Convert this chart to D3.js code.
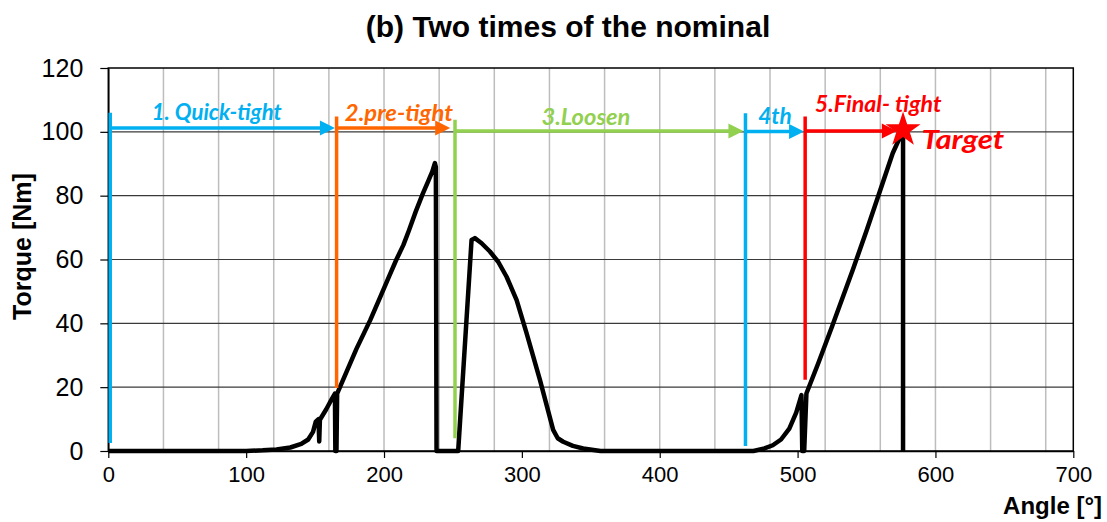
<!DOCTYPE html>
<html>
<head>
<meta charset="utf-8">
<script src="https://cdn.jsdelivr.net/npm/d3@7"></script>
<style>
    body { margin: 0; background: #fff; }
    svg { display: block; font-family: "Liberation Sans", Arial, sans-serif; }
</style>
</head>
<body>
<div id="chart"></div>
<script>
const angle = [0, 100, 112, 122, 132, 140, 145, 148.5, 150.5, 152.5, 153, 153.5, 158, 162, 164.4, 164.7, 165.5, 166,
    180, 190, 197, 204, 209, 214, 218, 223, 228, 232, 235, 236.9, 237.6, 238.1,
    253.8, 263.5, 265.9, 270.8, 276.8, 282.8, 288.9, 296.2, 303.4, 313.1, 322.7, 326, 330, 337, 344.5, 357,
    468, 476, 482, 488, 494, 499, 502.8, 503.4, 504.8, 506.4, 515, 525, 540, 550, 560, 569, 575, 576.5, 576.5];
const torque = [0, 0, 0.2, 0.5, 1.1, 2.2, 3.6, 6, 9.2, 10, 3, 9.8, 13, 16.2, 18, 0, 0, 18,
    32, 41, 48, 55, 60, 64.5, 69, 75, 80.5, 84.5, 87.5, 90.2, 89, 0,
    0, 66.1, 66.7, 65.1, 62.5, 59.3, 54.6, 47.3, 36.9, 22.3, 6.6, 4, 2.9, 1.6, 0.8, 0,
    0, 0.8, 1.8, 3.6, 7, 12, 17.5, 0, 0, 18, 27.5, 39, 56.7, 69, 81.8, 93.3, 99, 100.6, 0];

// tightening phases
const phaseLabels = ["1. Quick-tight", "2.pre-tight", "3.Loosen", "4th", "5.Final- tight"];
const phaseStart = [1.4, 165.6, 251.5, 462.2, 505.5];
const phaseArrowEnd = [164.4, 248, 460.7, 504.7, 572];
const phaseArrowLevel = [101.2, 101.2, 100.3, 100.1, 100.3];
const phaseLineTop = [106, 104.8, 103.8, 105.8, 104.8];
const phaseLineBottom = [2.5, 19.7, 4, 1.6, 22.3];
const phaseLabelX = [31.5, 171.6, 314.2, 471.5, 512.5];
const phaseLabelY = [103.8, 103.4, 102, 102.4, 106.1];
const phaseColors = ["#00B0F0", "#FF6600", "#92D050", "#00B0F0", "#FF0000"];

// target point
const targetAngle = 576.5;
const targetTorque = 100.6;

// axes
const xTicks = [0, 100, 200, 300, 400, 500, 600, 700];
const yTicks = [0, 20, 40, 60, 80, 100, 120];
const xGrid = [40, 80, 120, 160, 200, 240, 280, 320, 360, 400, 440, 480, 520, 560, 600, 640, 680];

const W = 1107, H = 522;
const M = { left: 108.3, right: 1073.3, top: 68, bottom: 451 };

// label text widths in the picture
const LABEL_W = [130, 108, 89, 33.5, 126.7];

const svg = d3.select("#chart").append("svg")
    .attr("width", W)
    .attr("height", H);

const x = d3.scaleLinear().domain([0, 700]).range([M.left, M.right]);
const y = d3.scaleLinear().domain([0, 120]).range([M.bottom, M.top]);

// grid
svg.append("g").selectAll("line")
    .data(xGrid)
    .enter().append("line")
    .attr("x1", d => x(d)).attr("x2", d => x(d))
    .attr("y1", M.top).attr("y2", M.bottom)
    .attr("stroke", "#bdbdbd")
    .attr("stroke-width", 1.5);

svg.append("g").selectAll("line")
    .data(yTicks.slice(1, -1))
    .enter().append("line")
    .attr("x1", M.left).attr("x2", M.right)
    .attr("y1", d => y(d)).attr("y2", d => y(d))
    .attr("stroke", "#3a3a3a")
    .attr("stroke-width", 1.2);

// frame
svg.append("rect")
    .attr("x", M.left).attr("y", M.top)
    .attr("width", M.right - M.left).attr("height", M.bottom - M.top)
    .attr("fill", "none")
    .attr("stroke", "#000")
    .attr("stroke-width", 1.5);

// axes
const xAxis = svg.append("g")
    .attr("transform", `translate(0,${M.bottom})`)
    .call(d3.axisBottom(x).tickValues(xTicks).tickSize(7).tickPadding(8).tickSizeOuter(0));
xAxis.select(".domain").attr("stroke", "#000").attr("stroke-width", 1.5);
xAxis.selectAll(".tick line").attr("stroke", "#000").attr("stroke-width", 1.2);
xAxis.selectAll(".tick text")
    .attr("font-size", 22)
    .attr("font-family", "Liberation Sans, Arial, sans-serif")
    .attr("fill", "#000");

const yAxis = svg.append("g")
    .attr("transform", `translate(${M.left},0)`)
    .call(d3.axisLeft(y).tickValues(yTicks).tickSize(8).tickPadding(17).tickSizeOuter(0));
yAxis.select(".domain").attr("stroke", "#000").attr("stroke-width", 1.5);
yAxis.selectAll(".tick line").attr("stroke", "#000").attr("stroke-width", 1.2);
yAxis.selectAll(".tick text")
    .attr("font-size", 25)
    .attr("font-family", "Liberation Sans, Arial, sans-serif")
    .attr("fill", "#000");

// titles
svg.append("text")
    .attr("x", 568).attr("y", 37)
    .attr("text-anchor", "middle")
    .attr("font-size", 30)
    .attr("font-weight", "bold")
    .text("(b) Two times of the nominal");

svg.append("text")
    .attr("transform", "translate(31,246.5) rotate(-90)")
    .attr("text-anchor", "middle")
    .attr("font-size", 25)
    .attr("font-weight", "bold")
    .text("Torque [Nm]");

svg.append("text")
    .attr("x", 1102).attr("y", 514)
    .attr("text-anchor", "end")
    .attr("font-size", 24)
    .attr("font-weight", "bold")
    .text("Angle [°]");

// torque curve
const curve = angle.map((a, i) => [a, torque[i]]);
svg.append("path")
    .datum(curve)
    .attr("d", d3.line().x(d => x(d[0])).y(d => y(d[1])))
    .attr("fill", "none")
    .attr("stroke", "#000")
    .attr("stroke-width", 4.5)
    .attr("stroke-linejoin", "round");

// phase markers
const phases = phaseLabels.map((label, i) => ({
    label,
    start: phaseStart[i],
    end: phaseArrowEnd[i],
    level: phaseArrowLevel[i],
    top: phaseLineTop[i],
    bottom: phaseLineBottom[i],
    lx: phaseLabelX[i],
    ly: phaseLabelY[i],
    width: LABEL_W[i],
    color: phaseColors[i]
}));

const ph = svg.append("g").selectAll("g")
    .data(phases)
    .enter().append("g");

ph.append("line")
    .attr("x1", d => x(d.start)).attr("x2", d => x(d.start))
    .attr("y1", d => y(d.top)).attr("y2", d => y(d.bottom))
    .attr("stroke", d => d.color)
    .attr("stroke-width", 3.5);

const HEAD = 15, HALF = 7.5;
ph.append("line")
    .attr("x1", d => x(d.start)).attr("x2", d => x(d.end) - HEAD + 1)
    .attr("y1", d => y(d.level)).attr("y2", d => y(d.level))
    .attr("stroke", d => d.color)
    .attr("stroke-width", 3.5);

ph.append("path")
    .attr("d", d => {
        const tx = x(d.end), ty = y(d.level);
        return `M${tx},${ty}L${tx - HEAD},${ty - HALF}L${tx - HEAD},${ty + HALF}Z`;
    })
    .attr("fill", d => d.color);

ph.append("text")
    .attr("x", d => x(d.lx)).attr("y", d => y(d.ly))
    .attr("font-family", "Lato, 'Open Sans', sans-serif")
    .attr("font-style", "italic")
    .attr("font-weight", "bold")
    .attr("font-size", 22)
    .attr("textLength", d => d.width)
    .attr("lengthAdjust", "spacingAndGlyphs")
    .attr("fill", d => d.color)
    .text(d => d.label);

// target star
svg.append("path")
    .attr("transform", `translate(${x(targetAngle)},${y(targetTorque)})`)
    .attr("d", d3.symbol(d3.symbolStar, 380)())
    .attr("fill", "#FF0000");

svg.append("text")
    .attr("x", 921.5).attr("y", 149)
    .attr("font-family", "Lato, 'Open Sans', sans-serif")
    .attr("font-style", "italic")
    .attr("font-weight", "bold")
    .attr("font-size", 27)
    .attr("textLength", 82.5)
    .attr("lengthAdjust", "spacingAndGlyphs")
    .attr("fill", "#FF0000")
    .text("Target");
</script>
</body>
</html>
